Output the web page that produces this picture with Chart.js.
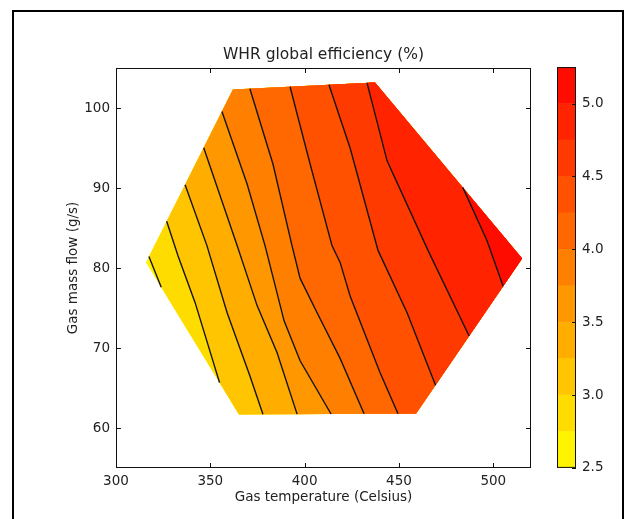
<!DOCTYPE html>
<html>
<head>
<meta charset="utf-8">
<script src="https://cdn.jsdelivr.net/npm/chart.js@4.4.1/dist/chart.umd.min.js"></script>
<style>
  html, body { margin: 0; padding: 0; background: #fff; }
  body { width: 627px; height: 519px; position: relative; overflow: hidden; }
  #frame { position: absolute; left: 12px; top: 10px; width: 608px; height: 560px; border: 2px solid #000; }
  #main { position: absolute; left: 0; top: 0; }
  #cbar { position: absolute; left: 557px; top: 53px; }
</style>
</head>
<body>
<div id="frame"></div>
<canvas id="main" width="627" height="519"></canvas>
<canvas id="cbar" width="64" height="429"></canvas>
<script>
// ---------------------------------------------------------------
// data
// ---------------------------------------------------------------
// contour levels = colour band edges (%)
const levels = [2.5, 2.75, 3.0, 3.25, 3.5, 3.75, 4.0, 4.25, 4.5, 4.75, 5.0, 5.25];
const cbarTicks = [2.5, 3.0, 3.5, 4.0, 4.5, 5.0];
const xTicks = [300, 350, 400, 450, 500];
const yTicks = [60, 70, 80, 90, 100];

// outline of the measured region, anticlockwise from the left tip
const regionTemp = [315.9, 365.2, 459.1, 515.3, 437.3, 362.0];
const regionFlow = [80.7, 61.7, 61.8, 81.2, 103.2, 102.3];

// iso-efficiency lines [temperature, mass flow], upper end first
const iso275 = [[318.6, 81.3], [323.3, 77.5]];
const iso300 = [[328.1, 85.7], [332.9, 81.5], [341.9, 75.7], [355.1, 65.7]];
const iso325 = [[337.6, 90.3], [348.2, 82.8], [358.9, 74.4], [371.0, 66.5], [377.9, 61.5]];
const iso350 = [[347.7, 94.9], [364.2, 82.8], [374.8, 75.3], [385.4, 69.4], [396.0, 61.5]];
const iso375 = [[356.7, 99.5], [369.5, 90.5], [379.0, 82.8], [389.1, 73.4], [397.6, 68.4], [414.0, 61.7]];
const iso400 = [[371.0, 102.3], [383.2, 93.0], [393.3, 82.8], [397.6, 78.7], [406.6, 74.4], [418.8, 68.7], [431.5, 61.8]];
const iso425 = [[392.3, 102.5], [402.9, 93.0], [414.5, 82.8], [418.8, 80.7], [424.1, 76.5], [440.0, 66.9], [449.5, 61.8]];
const iso450 = [[412.9, 102.8], [424.1, 95.0], [438.9, 82.2], [454.3, 74.4], [469.1, 65.4]];
const iso475 = [[433.1, 103.0], [443.7, 93.4], [465.4, 82.2], [487.2, 71.5]];
const iso500 = [[483.4, 90.0], [496.7, 83.4], [504.7, 77.8]];
const isoLines = [iso275, iso300, iso325, iso350, iso375, iso400, iso425, iso450, iso475, iso500];

// ---------------------------------------------------------------
Chart.defaults.font.family = '"DejaVu Sans", sans-serif';
Chart.defaults.color = '#222';
const textFont = { size: 13.5 };

// matplotlib autumn_r, sampled at the middle of each band
function bandColor(i) {
  const mid = (levels[i] + levels[i + 1]) / 2;
  const t = (mid - levels[0]) / (levels[levels.length - 1] - levels[0]);
  return `rgb(255,${Math.round(255 * (1 - t))},0)`;
}

const hull = regionTemp.map((x, i) => ({ x, y: regionFlow[i] }));
const n = hull.length;

// nearest outline edge of an end point, and the point moved onto it
function edgeOf(p) {
  let best = 0, bestD = Infinity, bestQ = null;
  for (let i = 0; i < n; i++) {
    const a = hull[i], b = hull[(i + 1) % n];
    const ax = a.x / 220, ay = a.y / 50, bx = b.x / 220, by = b.y / 50;
    const px = p.x / 220, py = p.y / 50;
    let t = ((px - ax) * (bx - ax) + (py - ay) * (by - ay)) / ((bx - ax) ** 2 + (by - ay) ** 2);
    t = Math.max(0, Math.min(1, t));
    const d = (px - ax - t * (bx - ax)) ** 2 + (py - ay - t * (by - ay)) ** 2;
    if (d < bestD) {
      bestD = d; best = i;
      bestQ = { x: a.x + t * (b.x - a.x), y: a.y + t * (b.y - a.y) };
    }
  }
  return { edge: best, q: bestQ };
}

const datasets = [];
const hidden = 'rgba(0,0,0,0)';

// lowest band: the whole region
datasets.push({
  data: hull, fill: 'shape', backgroundColor: bandColor(0),
  borderColor: hidden, borderWidth: 0, pointRadius: 0, order: 100
});

isoLines.forEach((line, k) => {
  const pts = line.map(([x, y]) => ({ x, y }));
  const s = edgeOf(pts[0]);
  const e = edgeOf(pts[pts.length - 1]);
  pts[0] = s.q;
  pts[pts.length - 1] = e.q;

  // part of the region on the high side of this line
  const region = pts.slice();
  for (let j = (e.edge + 1) % n; ; j = (j + 1) % n) {
    region.push(hull[j]);
    if (j === s.edge) break;
  }
  datasets.push({
    data: region, fill: 'shape', backgroundColor: bandColor(k + 1),
    borderColor: hidden, borderWidth: 0, pointRadius: 0, order: 99 - k
  });
  datasets.push({
    data: pts, fill: false, borderColor: '#141414', borderWidth: 1.4,
    pointRadius: 0, order: 0
  });
});

// box round the axes and inward ticks on all four sides
const boxTicks = {
  id: 'boxTicks',
  afterDatasetsDraw(chart) {
    const { ctx, chartArea: a, scales: { x, y } } = chart;
    ctx.save();
    ctx.strokeStyle = '#111';
    ctx.lineWidth = 1;
    ctx.strokeRect(a.left + 0.5, a.top + 0.5, a.right - a.left - 1, a.bottom - a.top - 1);
    ctx.beginPath();
    xTicks.forEach(v => {
      const px = Math.round(x.getPixelForValue(v)) + 0.5;
      ctx.moveTo(px, a.bottom); ctx.lineTo(px, a.bottom - 5);
      ctx.moveTo(px, a.top); ctx.lineTo(px, a.top + 5);
    });
    yTicks.forEach(v => {
      const py = Math.round(y.getPixelForValue(v)) + 0.5;
      ctx.moveTo(a.left, py); ctx.lineTo(a.left + 5, py);
      ctx.moveTo(a.right, py); ctx.lineTo(a.right - 5, py);
    });
    ctx.stroke();
    ctx.restore();
  }
};

new Chart(document.getElementById('main'), {
  type: 'line',
  data: { datasets },
  options: {
    responsive: false,
    animation: false,
    events: [],
    layout: { padding: { left: 0, top: 0, right: 96, bottom: 0 } },
    plugins: {
      legend: { display: false },
      tooltip: { enabled: false },
      title: {
        display: true,
        text: 'WHR global efficiency (%)',
        fullSize: false,
        color: '#222',
        font: { size: 15.5, weight: 'normal' },
        padding: { top: 46, bottom: 3.4 }
      }
    },
    scales: {
      x: {
        type: 'linear', min: 300, max: 520,
        afterBuildTicks: s => { s.ticks = xTicks.map(v => ({ value: v })); },
        afterFit: s => { s.height = 51; },
        grid: { display: false, drawTicks: false },
        border: { display: false },
        ticks: { padding: 5, font: textFont, maxRotation: 0 },
        title: { display: true, text: 'Gas temperature (Celsius)', font: textFont, padding: { top: 0, bottom: 13 } }
      },
      y: {
        type: 'linear', min: 55, max: 105,
        afterBuildTicks: s => { s.ticks = yTicks.map(v => ({ value: v })); },
        afterFit: s => { s.width = 116; },
        grid: { display: false, drawTicks: false },
        border: { display: false },
        ticks: { padding: 6, font: textFont },
        title: { display: true, text: 'Gas mass flow (g/s)', font: textFont, padding: { top: 65, bottom: 0 } }
      }
    }
  },
  plugins: [boxTicks]
});

// ---------------------------------------------------------------
// colour bar
// ---------------------------------------------------------------
const cbarBox = {
  id: 'cbarBox',
  afterDatasetsDraw(chart) {
    const { ctx, chartArea: a, scales: { y } } = chart;
    ctx.save();
    ctx.strokeStyle = '#111';
    ctx.lineWidth = 1;
    ctx.strokeRect(a.left + 0.5, a.top + 0.5, a.right - a.left - 1, a.bottom - a.top - 1);
    ctx.beginPath();
    cbarTicks.forEach(v => {
      const py = Math.round(y.getPixelForValue(v)) + 0.5;
      ctx.moveTo(a.right, py); ctx.lineTo(a.right - 4, py);
    });
    ctx.stroke();
    ctx.restore();
  }
};

new Chart(document.getElementById('cbar'), {
  type: 'bar',
  data: {
    labels: [''],
    datasets: levels.slice(0, -1).map((lo, i) => ({
      data: [[lo, levels[i + 1]]],
      backgroundColor: bandColor(i),
      borderWidth: 0,
      grouped: false,
      barPercentage: 1,
      categoryPercentage: 1
    }))
  },
  options: {
    responsive: false,
    animation: false,
    events: [],
    layout: { padding: 0 },
    plugins: { legend: { display: false }, tooltip: { enabled: false } },
    scales: {
      x: { display: false },
      y: {
        position: 'right', min: levels[0], max: levels[levels.length - 1],
        afterBuildTicks: s => { s.ticks = cbarTicks.map(v => ({ value: v })); },
        afterFit: s => { s.width = 45; },
        grid: { display: false, drawTicks: false },
        border: { display: false },
        ticks: { padding: 6, font: textFont, callback: v => v.toFixed(1) }
      }
    }
  },
  plugins: [cbarBox]
});
</script>
</body>
</html>
